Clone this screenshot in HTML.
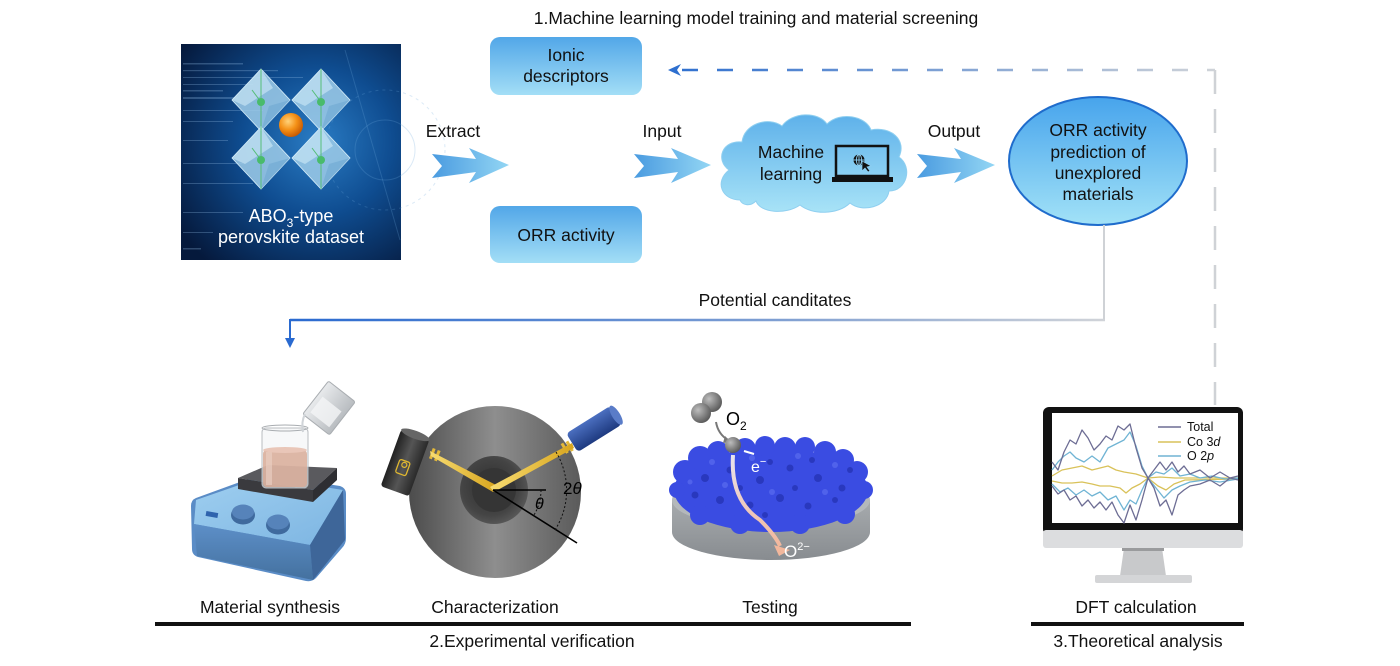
<!DOCTYPE html>
<html><head><meta charset="utf-8"><style>
html,body{margin:0;padding:0;background:#fff;}
svg{display:block;}
text{font-family:"Liberation Sans",Arial,sans-serif;}
</style></head><body>
<svg width="1400" height="666" viewBox="0 0 1400 666" xmlns="http://www.w3.org/2000/svg">
<defs>
  <radialGradient id="pbg" cx="0.62" cy="0.45" r="0.75">
    <stop offset="0" stop-color="#2a7cc4"/>
    <stop offset="0.45" stop-color="#0f4d91"/>
    <stop offset="1" stop-color="#05193c"/>
  </radialGradient>
  <radialGradient id="orange" cx="0.38" cy="0.35" r="0.7">
    <stop offset="0" stop-color="#ffd27a"/>
    <stop offset="0.5" stop-color="#f59218"/>
    <stop offset="1" stop-color="#c45500"/>
  </radialGradient>
  <linearGradient id="boxg" x1="0" y1="0" x2="0" y2="1">
    <stop offset="0" stop-color="#52a7e8"/>
    <stop offset="1" stop-color="#a3def6"/>
  </linearGradient>
  <linearGradient id="cloudg" x1="0" y1="0" x2="0" y2="1">
    <stop offset="0" stop-color="#5eb1ea"/>
    <stop offset="1" stop-color="#a8e3f7"/>
  </linearGradient>
  <linearGradient id="ellg" x1="0" y1="0" x2="0" y2="1">
    <stop offset="0" stop-color="#47a4ec"/>
    <stop offset="1" stop-color="#a2e2f7"/>
  </linearGradient>
  <linearGradient id="arrg" x1="0" y1="0" x2="1" y2="0">
    <stop offset="0" stop-color="#4a9be0"/>
    <stop offset="1" stop-color="#93d6f4"/>
  </linearGradient>
  <linearGradient id="dashg" x1="670" y1="0" x2="1215" y2="0" gradientUnits="userSpaceOnUse">
    <stop offset="0" stop-color="#2e6fcf"/>
    <stop offset="1" stop-color="#cfd3d8"/>
  </linearGradient>
  <linearGradient id="solidg" x1="290" y1="0" x2="1104" y2="0" gradientUnits="userSpaceOnUse">
    <stop offset="0" stop-color="#2a6ad0"/>
    <stop offset="0.6" stop-color="#7f9fd2"/>
    <stop offset="1" stop-color="#d0d3d8"/>
  </linearGradient>
  <linearGradient id="diskg" x1="0" y1="0" x2="1" y2="0">
    <stop offset="0" stop-color="#4c4c4c"/>
    <stop offset="0.5" stop-color="#8e8e8e"/>
    <stop offset="1" stop-color="#5a5a5a"/>
  </linearGradient>
  <radialGradient id="holeg" cx="0.45" cy="0.45" r="0.6">
    <stop offset="0" stop-color="#2e2e2e"/>
    <stop offset="0.7" stop-color="#444"/>
    <stop offset="1" stop-color="#5c5c5c"/>
  </radialGradient>
  <linearGradient id="beamg" x1="0" y1="0" x2="1" y2="0">
    <stop offset="0" stop-color="#f7dc72"/>
    <stop offset="1" stop-color="#d8a51e"/>
  </linearGradient>
  <linearGradient id="detg" x1="0" y1="0" x2="1" y2="0">
    <stop offset="0" stop-color="#222"/>
    <stop offset="0.5" stop-color="#555"/>
    <stop offset="1" stop-color="#2a2a2a"/>
  </linearGradient>
  <linearGradient id="srcg" x1="0" y1="0" x2="0" y2="1">
    <stop offset="0" stop-color="#4b6fc0"/>
    <stop offset="1" stop-color="#1e3a80"/>
  </linearGradient>
  <linearGradient id="baseg" x1="0" y1="0" x2="0" y2="1">
    <stop offset="0" stop-color="#a7abae"/>
    <stop offset="1" stop-color="#888c90"/>
  </linearGradient>
  <radialGradient id="sph" cx="0.35" cy="0.35" r="0.7">
    <stop offset="0" stop-color="#bdbdbd"/>
    <stop offset="1" stop-color="#585858"/>
  </radialGradient>
  <linearGradient id="pinkg" x1="0" y1="0" x2="0" y2="1">
    <stop offset="0" stop-color="#e8e4ee"/>
    <stop offset="1" stop-color="#f2b79c"/>
  </linearGradient>
  <linearGradient id="panelg" x1="0" y1="0" x2="1" y2="1">
    <stop offset="0" stop-color="#9fcff0"/>
    <stop offset="1" stop-color="#7db5e2"/>
  </linearGradient>
  <linearGradient id="frontg" x1="0" y1="0" x2="0" y2="1">
    <stop offset="0" stop-color="#5d8fc8"/>
    <stop offset="1" stop-color="#44719f"/>
  </linearGradient>
  <linearGradient id="cupg" x1="0" y1="0" x2="1" y2="0">
    <stop offset="0" stop-color="#e8eaec"/>
    <stop offset="1" stop-color="#b8bcc0"/>
  </linearGradient>
</defs>

<!-- Title -->
<text x="756" y="24" font-size="17.5" text-anchor="middle" fill="#111">1.Machine learning model training and material screening</text>

<!-- Perovskite image -->
<rect x="181" y="44" width="220" height="216" fill="url(#pbg)"/>
<g opacity="0.28" fill="#9cc6ee">
  <rect x="183" y="63" width="60" height="1.5"/><rect x="183" y="70" width="95" height="1.2"/>
  <rect x="183" y="77" width="120" height="1"/><rect x="183" y="84" width="70" height="1"/>
  <rect x="183" y="90" width="40" height="1.5"/><rect x="183" y="97" width="55" height="2"/>
  <rect x="183" y="110" width="80" height="1"/><rect x="183" y="121" width="50" height="1"/>
  <rect x="183" y="140" width="45" height="1"/><rect x="183" y="163" width="60" height="1"/>
  <rect x="183" y="183" width="70" height="1"/><rect x="183" y="212" width="60" height="1"/>
  <rect x="183" y="232" width="30" height="1"/><rect x="183" y="248" width="18" height="1.5"/>
</g>
<g fill="none" stroke="#6aa6dc" stroke-opacity="0.25" stroke-width="1">
  <circle cx="385" cy="150" r="60" stroke-dasharray="3 4"/>
  <circle cx="385" cy="150" r="30"/>
  <line x1="345" y1="50" x2="400" y2="240"/>
</g>
<!-- octahedra -->
<g>
  <g transform="translate(261,100)">
    <polygon points="0,-31 29,0 0,31 -29,0" fill="#9fcde9" fill-opacity="0.85" stroke="#d7eefa" stroke-width="0.8"/>
    <polygon points="-29,0 0,-31 12,-12 -16,6" fill="#d6eefa" fill-opacity="0.55"/>
    <polygon points="0,31 29,0 8,6" fill="#6fa8d2" fill-opacity="0.6"/>
    <line x1="0" y1="-31" x2="0" y2="31" stroke="#56bd78" stroke-width="1"/>
    <line x1="0" y1="2" x2="-9" y2="-10" stroke="#56bd78" stroke-width="1"/>
    <circle cx="0" cy="2" r="4" fill="#49bb6c"/>
  </g>
  <g transform="translate(321,100)">
    <polygon points="0,-31 29,0 0,31 -29,0" fill="#9fcde9" fill-opacity="0.85" stroke="#d7eefa" stroke-width="0.8"/>
    <polygon points="-29,0 0,-31 12,-12 -16,6" fill="#d6eefa" fill-opacity="0.55"/>
    <polygon points="0,31 29,0 8,6" fill="#6fa8d2" fill-opacity="0.6"/>
    <line x1="0" y1="-31" x2="0" y2="31" stroke="#56bd78" stroke-width="1"/>
    <line x1="0" y1="2" x2="-9" y2="-10" stroke="#56bd78" stroke-width="1"/>
    <circle cx="0" cy="2" r="4" fill="#49bb6c"/>
  </g>
  <g transform="translate(261,158)">
    <polygon points="0,-31 29,0 0,31 -29,0" fill="#9fcde9" fill-opacity="0.85" stroke="#d7eefa" stroke-width="0.8"/>
    <polygon points="-29,0 0,-31 12,-12 -16,6" fill="#d6eefa" fill-opacity="0.55"/>
    <polygon points="0,31 29,0 8,6" fill="#6fa8d2" fill-opacity="0.6"/>
    <line x1="0" y1="-31" x2="0" y2="31" stroke="#56bd78" stroke-width="1"/>
    <line x1="0" y1="2" x2="-9" y2="-10" stroke="#56bd78" stroke-width="1"/>
    <circle cx="0" cy="2" r="4" fill="#49bb6c"/>
  </g>
  <g transform="translate(321,158)">
    <polygon points="0,-31 29,0 0,31 -29,0" fill="#9fcde9" fill-opacity="0.85" stroke="#d7eefa" stroke-width="0.8"/>
    <polygon points="-29,0 0,-31 12,-12 -16,6" fill="#d6eefa" fill-opacity="0.55"/>
    <polygon points="0,31 29,0 8,6" fill="#6fa8d2" fill-opacity="0.6"/>
    <line x1="0" y1="-31" x2="0" y2="31" stroke="#56bd78" stroke-width="1"/>
    <line x1="0" y1="2" x2="-9" y2="-10" stroke="#56bd78" stroke-width="1"/>
    <circle cx="0" cy="2" r="4" fill="#49bb6c"/>
  </g>
  <circle cx="291" cy="125" r="12" fill="url(#orange)"/>
</g>
<text x="291" y="222" font-size="18" fill="#fff" text-anchor="middle">ABO<tspan font-size="12" dy="5">3</tspan><tspan dy="-5">-type</tspan></text>
<text x="291" y="243" font-size="18" fill="#fff" text-anchor="middle">perovskite dataset</text>

<!-- Boxes -->
<rect x="490" y="37" width="152" height="58" rx="10" fill="url(#boxg)"/>
<text x="566" y="61" font-size="17.5" text-anchor="middle" fill="#111">Ionic</text>
<text x="566" y="82" font-size="17.5" text-anchor="middle" fill="#111">descriptors</text>
<rect x="490" y="206" width="152" height="57" rx="10" fill="url(#boxg)"/>
<text x="566" y="241" font-size="17.5" text-anchor="middle" fill="#111">ORR activity</text>

<!-- Block arrows -->
<text x="453" y="137" font-size="17.5" text-anchor="middle" fill="#111">Extract</text>
<polygon points="432,154 476,159 469,148 509,165 469,183 476,172 432,178 442,166" fill="url(#arrg)"/>
<text x="662" y="137" font-size="17.5" text-anchor="middle" fill="#111">Input</text>
<polygon points="634,154 678,159 671,148 711,165 671,183 678,172 634,178 644,166" fill="url(#arrg)"/>
<text x="954" y="137" font-size="17.5" text-anchor="middle" fill="#111">Output</text>
<polygon points="917,154 961,159 954,148 995,165 954,183 961,172 917,178 927,166" fill="url(#arrg)"/>

<!-- Cloud -->
<path d="M740 200 C722 200,714 182,729 170 C715 160,722 140,742 142 C744 124,768 116,782 126 C792 112,818 111,827 124 C840 111,866 116,871 130 C891 126,907 140,899 157 C913 167,907 191,889 191 C887 207,862 213,850 203 C838 215,812 215,800 205 C786 215,760 213,756 201 C750 207,742 205,740 200 Z" fill="url(#cloudg)" stroke="#8fcff0" stroke-width="1"/>
<text x="791" y="158" font-size="17.5" text-anchor="middle" fill="#111">Machine</text>
<text x="791" y="180" font-size="17.5" text-anchor="middle" fill="#111">learning</text>
<rect x="836" y="146" width="52" height="30" fill="none" stroke="#111" stroke-width="2.5"/>
<rect x="832" y="177" width="61" height="5" fill="#111"/>
<circle cx="859" cy="160" r="5.5" fill="#111"/>
<g stroke="#8fd0f2" stroke-width="0.9" fill="none">
  <line x1="853.5" y1="160" x2="864.5" y2="160"/>
  <line x1="859" y1="154.5" x2="859" y2="165.5"/>
  <ellipse cx="859" cy="160" rx="2.6" ry="5.5"/>
</g>
<polygon points="862,161 862,171 865,168 868,172 870,171 867,167 871,166" fill="#111" stroke="#8fd0f2" stroke-width="0.7"/>

<!-- Ellipse -->
<ellipse cx="1098" cy="161" rx="89" ry="64" fill="url(#ellg)" stroke="#1f6ccc" stroke-width="2"/>
<text x="1098" y="136" font-size="17.5" text-anchor="middle" fill="#111">ORR activity</text>
<text x="1098" y="158" font-size="17.5" text-anchor="middle" fill="#111">prediction of</text>
<text x="1098" y="179" font-size="17.5" text-anchor="middle" fill="#111">unexplored</text>
<text x="1098" y="200" font-size="17.5" text-anchor="middle" fill="#111">materials</text>

<!-- Dashed feedback connector -->
<line x1="682" y1="70" x2="1215" y2="70" stroke="url(#dashg)" stroke-width="2.5" stroke-dasharray="16 19"/>
<line x1="1215" y1="70" x2="1215" y2="405" stroke="#cfd2d6" stroke-width="2.5" stroke-dasharray="24 15"/>
<polygon points="668,70 681,64 677,70 681,76" fill="#2e6fcf"/>

<!-- Potential candidates connector -->
<line x1="1104" y1="225" x2="1104" y2="321" stroke="#cfd2d6" stroke-width="2"/>
<line x1="290" y1="320" x2="1105" y2="320" stroke="url(#solidg)" stroke-width="2.5"/>
<line x1="290" y1="319" x2="290" y2="340" stroke="#2a6ad0" stroke-width="2"/>
<polygon points="285,338 295,338 290,348" fill="#2a6ad0"/>
<text x="775" y="306" font-size="17.5" text-anchor="middle" fill="#111">Potential canditates</text>

<!-- Material synthesis -->
<g>
  <!-- stirrer base -->
  <path d="M196 498 L262 474 L340 486 Q346 488 346 494 L346 538 Q346 544 342 548 L316 578 Q312 582 306 581 L198 557 Q192 555 192 549 L191 506 Q191 500 196 498 Z" fill="#5a8cc6"/>
  <polygon points="196,500 262,477 343,490 310,545 194,524" fill="url(#panelg)"/>
  <polygon points="194,524 310,545 313,580 197,556" fill="url(#frontg)"/>
  <polygon points="310,545 343,490 345,540 313,580" fill="#3e6699"/>
  <rect x="206" y="512" width="12" height="5" fill="#2f63ad" transform="rotate(10 212 514)"/>
  <ellipse cx="243" cy="515" rx="12" ry="9.5" fill="#3f6a9e"/>
  <ellipse cx="243" cy="512" rx="11" ry="7.5" fill="#5683ba"/>
  <ellipse cx="278" cy="525" rx="12" ry="9.5" fill="#3f6a9e"/>
  <ellipse cx="278" cy="522" rx="11" ry="7.5" fill="#5683ba"/>
  <!-- hot plate -->
  <polygon points="238,478 268,465 337,468 313,490" fill="#5a5a5e"/>
  <polygon points="238,478 313,490 313,502 238,489" fill="#3a3a3e"/>
  <polygon points="313,490 337,468 337,480 313,502" fill="#2e2e32"/>
  <!-- beaker -->
  <rect x="262" y="428" width="46" height="60" rx="4" fill="#f2f3f5" fill-opacity="0.6" stroke="#b8bcc0" stroke-width="1"/>
  <rect x="263" y="450" width="44" height="37" rx="4" fill="#d8ab98" fill-opacity="0.85"/>
  <rect x="266" y="452" width="6" height="33" fill="#ecd2c6" fill-opacity="0.6"/>
  <ellipse cx="285" cy="450" rx="22" ry="3" fill="#e9c6b8"/>
  <ellipse cx="285" cy="428" rx="23" ry="3" fill="none" stroke="#a8acb0" stroke-width="1"/>
  <!-- pouring beaker -->
  <g transform="translate(329,408) rotate(38)">
    <rect x="-17" y="-21" width="34" height="42" rx="2" fill="url(#cupg)" stroke="#a9adb1" stroke-width="1"/>
    <rect x="-12" y="-5" width="24" height="20" fill="#f4f5f6" fill-opacity="0.8"/>
  </g>
  <path d="M305 414 Q301 422 303 432" stroke="#d0d4d8" stroke-width="2" fill="none"/>
</g>

<!-- Characterization -->
<g>
  <circle cx="495" cy="492" r="86" fill="url(#diskg)"/>
  <circle cx="494" cy="490" r="34" fill="url(#holeg)"/>
  <circle cx="494" cy="490" r="22" fill="#353535"/>
  <g transform="translate(405,463) rotate(20)">
    <rect x="-15" y="-30" width="30" height="60" rx="3" fill="url(#detg)"/>
    <ellipse cx="0" cy="-30" rx="15" ry="4" fill="#666"/>
    <rect x="-6" y="-2" width="11" height="14" rx="2" fill="none" stroke="#e0b830" stroke-width="1.3"/>
    <circle cx="0" cy="2" r="2.5" fill="none" stroke="#e0b830" stroke-width="1.2"/>
  </g>
  <g transform="translate(594,429) rotate(-32)">
    <rect x="-26" y="-11" width="52" height="22" rx="4" fill="url(#srcg)"/>
    <ellipse cx="26" cy="0" rx="4" ry="11" fill="#5a7cc8"/>
  </g>
  <rect x="431" y="448" width="3" height="11" fill="#e4b93a" transform="rotate(20 432 453)"/>
  <rect x="436" y="450" width="3" height="11" fill="#e4b93a" transform="rotate(20 437 455)"/>
  <rect x="563" y="443" width="3" height="11" fill="#e4b93a" transform="rotate(-30 564 448)"/>
  <rect x="568" y="441" width="3" height="11" fill="#e4b93a" transform="rotate(-30 569 446)"/>
  <polygon points="430,451 496,485 493,492 431,456" fill="url(#beamg)"/>
  <polygon points="572,443 574,448 494,492 490,487" fill="url(#beamg)"/>
  <line x1="493" y1="490" x2="546" y2="490" stroke="#000" stroke-width="1.6"/>
  <line x1="493" y1="490" x2="577" y2="543" stroke="#000" stroke-width="1.6"/>
  <path d="M541 490 A48 48 0 0 1 534 515" fill="none" stroke="#111" stroke-width="1" stroke-dasharray="2 2"/>
  <path d="M556 452 A74 74 0 0 1 555 530" fill="none" stroke="#111" stroke-width="1" stroke-dasharray="2 2"/>
  <text x="535" y="509" font-size="16" font-family="Liberation Serif,serif" font-style="italic" fill="#000">θ</text>
  <text x="563" y="494" font-size="17" font-family="Liberation Serif,serif" fill="#000">2<tspan font-style="italic">θ</tspan></text>
</g>

<!-- Testing -->
<g>
  <path d="M672 500 L672 532 A99 28 0 0 0 870 532 L870 500 Z" fill="url(#baseg)"/>
  <ellipse cx="771" cy="500" rx="99" ry="28" fill="#b4b8bb"/>
  <ellipse cx="771" cy="490" rx="97" ry="42" fill="#3a4ce2"/>
  <g fill="#3a4ce2">
    <circle cx="685" cy="472" r="12"/><circle cx="700" cy="458" r="12"/><circle cx="718" cy="452" r="11"/>
    <circle cx="745" cy="449" r="11"/><circle cx="765" cy="446" r="10"/><circle cx="785" cy="448" r="11"/>
    <circle cx="805" cy="447" r="10"/><circle cx="825" cy="452" r="11"/><circle cx="843" cy="460" r="11"/>
    <circle cx="857" cy="472" r="11"/><circle cx="864" cy="490" r="9"/><circle cx="677" cy="490" r="8"/>
    <circle cx="700" cy="515" r="10"/><circle cx="740" cy="524" r="10"/><circle cx="800" cy="524" r="10"/><circle cx="845" cy="514" r="10"/>
  </g>
  <g fill="#2634b6" opacity="0.8">
    <circle cx="705" cy="478" r="4"/><circle cx="730" cy="470" r="3.5"/><circle cx="760" cy="480" r="4"/>
    <circle cx="790" cy="468" r="3.5"/><circle cx="818" cy="478" r="4"/><circle cx="842" cy="488" r="3.5"/>
    <circle cx="720" cy="500" r="4"/><circle cx="750" cy="505" r="3.5"/><circle cx="780" cy="498" r="4"/>
    <circle cx="808" cy="506" r="3.5"/><circle cx="835" cy="500" r="3"/><circle cx="695" cy="495" r="3.5"/>
    <circle cx="770" cy="462" r="3"/><circle cx="812" cy="460" r="3"/><circle cx="740" cy="488" r="3"/>
    <circle cx="795" cy="488" r="3"/><circle cx="765" cy="515" r="3"/><circle cx="850" cy="470" r="3"/>
  </g>
  <g fill="#5a6cf0" opacity="0.7">
    <circle cx="712" cy="462" r="3"/><circle cx="752" cy="458" r="3"/><circle cx="798" cy="456" r="3"/>
    <circle cx="835" cy="465" r="3"/><circle cx="725" cy="485" r="3"/><circle cx="772" cy="492" r="3"/>
    <circle cx="825" cy="492" r="3"/><circle cx="690" cy="482" r="2.5"/>
  </g>
  <circle cx="712" cy="402" r="10" fill="url(#sph)"/>
  <circle cx="701" cy="413" r="10" fill="url(#sph)"/>
  <text x="726" y="425" font-size="18" fill="#000">O<tspan font-size="12" dy="5">2</tspan></text>
  <path d="M716 422 Q718 434 728 440" fill="none" stroke="#777" stroke-width="2"/>
  <polygon points="725,436 731,442 723,443" fill="#777"/>
  <circle cx="733" cy="445" r="8" fill="url(#sph)"/>
  <path d="M733 455 Q730 500 760 520 Q775 535 780 546" fill="none" stroke="url(#pinkg)" stroke-width="4"/>
  <polygon points="774,545 790,550 779,556" fill="#f2b79c"/>
  <path d="M754 454 L744 451" stroke="#fff" stroke-width="2"/>
  <text x="751" y="472" font-size="16" fill="#fff">e<tspan font-size="11" dy="-7">−</tspan></text>
  <text x="784" y="557" font-size="17" fill="#fff">O<tspan font-size="11" dy="-7">2−</tspan></text>
</g>

<!-- Monitor -->
<g>
  <rect x="1043" y="407" width="200" height="128" rx="6" fill="#111"/>
  <rect x="1043" y="530" width="200" height="18" rx="3" fill="#dcdddf"/>
  <rect x="1052" y="413" width="186" height="110" fill="#fff"/>
  <polygon points="1124,548 1162,548 1166,576 1120,576" fill="#c8c9cb"/>
  <rect x="1122" y="548" width="42" height="3" fill="#9a9b9d"/>
  <rect x="1095" y="575" width="97" height="8" rx="2" fill="#d4d5d7"/>
  <g fill="none" stroke-width="1.3" stroke-linejoin="round">
    <polyline stroke="#d9c25a" points="1052,476 1062,470 1072,468 1082,466 1092,470 1100,468 1108,466 1116,470 1124,472 1136,474 1148,478 1160,477 1175,478 1238,478"/>
    <polyline stroke="#d9c25a" points="1052,481 1062,483 1072,483 1082,482 1092,484 1100,486 1110,486 1120,488 1126,493 1132,488 1140,484 1148,478 1158,486 1166,490 1174,484 1185,480 1238,479"/>
    <polyline stroke="#70b4d4" points="1052,470 1058,462 1064,456 1070,452 1076,458 1084,462 1092,456 1100,462 1108,448 1116,444 1124,440 1130,432 1136,446 1142,466 1148,478 1156,472 1164,474 1172,468 1180,476 1190,474 1200,478 1212,476 1225,479 1238,478"/>
    <polyline stroke="#70b4d4" points="1052,484 1060,492 1068,488 1076,495 1084,490 1092,496 1100,492 1108,500 1116,496 1124,510 1130,500 1136,504 1142,490 1148,478 1156,488 1164,498 1172,490 1180,486 1190,482 1205,480 1220,482 1238,479"/>
    <polyline stroke="#6d6d94" points="1052,462 1058,470 1064,452 1070,440 1076,444 1082,430 1088,438 1094,450 1100,444 1106,436 1112,440 1118,426 1124,430 1130,424 1136,448 1142,468 1148,478 1154,470 1160,462 1166,470 1172,462 1178,472 1184,466 1190,474 1200,470 1210,478 1220,472 1230,478 1238,476"/>
    <polyline stroke="#6d6d94" points="1052,486 1058,494 1064,490 1070,500 1076,496 1082,506 1088,500 1094,508 1100,502 1106,510 1112,502 1118,515 1124,523 1130,505 1136,520 1142,500 1148,478 1154,488 1160,506 1166,500 1172,515 1178,495 1184,490 1190,486 1200,484 1210,480 1220,486 1230,478 1238,480"/>
  </g>
  <line x1="1158" y1="427" x2="1181" y2="427" stroke="#6d6d94" stroke-width="1.5"/>
  <line x1="1158" y1="442" x2="1181" y2="442" stroke="#d9c25a" stroke-width="1.5"/>
  <line x1="1158" y1="456" x2="1181" y2="456" stroke="#70b4d4" stroke-width="1.5"/>
  <text x="1187" y="431" font-size="12.5" fill="#111">Total</text>
  <text x="1187" y="446" font-size="12.5" fill="#111">Co 3<tspan font-style="italic">d</tspan></text>
  <text x="1187" y="460" font-size="12.5" fill="#111">O 2<tspan font-style="italic">p</tspan></text>
</g>

<!-- Bottom labels -->
<text x="270" y="613" font-size="17.5" text-anchor="middle" fill="#111">Material synthesis</text>
<text x="495" y="613" font-size="17.5" text-anchor="middle" fill="#111">Characterization</text>
<text x="770" y="613" font-size="17.5" text-anchor="middle" fill="#111">Testing</text>
<text x="1136" y="613" font-size="17.5" text-anchor="middle" fill="#111">DFT calculation</text>
<rect x="155" y="622" width="756" height="4" fill="#111"/>
<rect x="1031" y="622" width="213" height="4" fill="#111"/>
<text x="532" y="647" font-size="17.5" text-anchor="middle" fill="#111">2.Experimental verification</text>
<text x="1138" y="647" font-size="17.5" text-anchor="middle" fill="#111">3.Theoretical analysis</text>
</svg>
</body></html>
